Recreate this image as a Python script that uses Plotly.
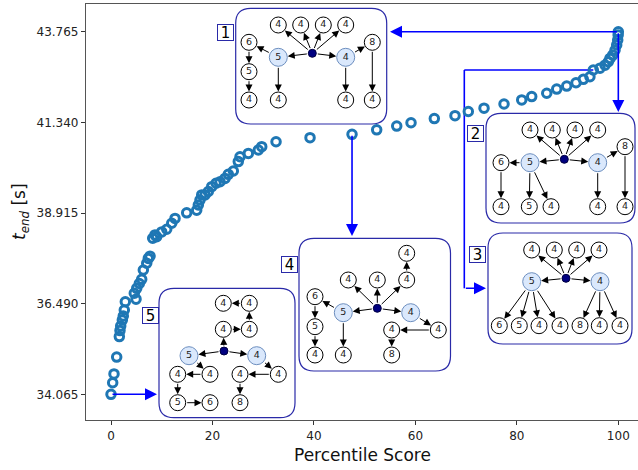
import plotly.graph_objects as go

# ---------------- data ----------------
percentile = [0, 0.33, 0.59, 1.12, 1.64, 1.77, 1.91, 2.23, 2.42, 2.62, 2.82, 4.59, 4.93,
              5.07, 5.58, 6.05, 6.37, 7.04, 7.35, 7.69, 8.22, 8.67, 9.0, 9.99, 10.98,
              11.97, 12.62, 14.92, 16.89, 17.21, 17.54, 17.88, 18.53, 19.18, 19.85, 20.70,
              21.49, 22.47, 23.12, 24.11, 25.09, 25.43, 27.07, 29.04, 29.71, 32.53, 39.23,
              47.51, 52.37, 56.32, 59.14, 63.73, 67.81, 70.43, 73.53, 77.47, 80.96, 82.93,
              85.89, 87.86, 89.83, 91.66, 93.10, 94.40, 95.07, 96.39, 97.38, 98.03, 98.36,
              98.90, 99.35, 99.68, 99.88, 99.97, 100]
t_end = [34.065, 34.375, 34.61, 35.06, 35.61, 35.77, 35.89, 36.05, 36.16, 36.32, 36.54,
         36.77, 36.61, 36.90, 37.03, 37.14, 37.39, 37.57, 37.70, 37.76, 38.24, 38.33, 38.28,
         38.41, 38.48, 38.64, 38.77, 38.92, 38.99, 39.13, 39.26, 39.40, 39.40, 39.49, 39.62,
         39.71, 39.75, 39.84, 39.95, 40.04, 40.29, 40.42, 40.51, 40.60, 40.69, 40.82, 40.93,
         41.02, 41.14, 41.24, 41.33, 41.44, 41.52, 41.63, 41.72, 41.83, 41.94, 42.03, 42.12,
         42.23, 42.31, 42.40, 42.49, 42.56, 42.74, 42.79, 42.87, 42.96, 43.05, 43.14, 43.27,
         43.41, 43.54, 43.68, 43.765]
xtick_vals = [0, 20, 40, 60, 80, 100]
ytick_vals = [34.065, 36.490, 38.915, 41.340, 43.765]
ytick_text = ["%.3f" % v for v in ytick_vals]

# indices of highlighted solutions (1..5) in the data arrays
sel_idx = {1: len(t_end) - 1, 2: len(t_end) - 1, 3: 64, 4: 47, 5: 0}

# ---------------- layout geometry (pixels) ----------------
W, H = 638, 470
L, R, T, B = 86, 0, 4, 50
PW, PH = W - L - R, H - T - B
XR = [-4.93, 103.88]
YR = [33.378, 44.506]


def px2x(px):
    return XR[0] + (px - L) / PW * (XR[1] - XR[0])


def py2y(py):
    return YR[1] - (py - T) / PH * (YR[1] - YR[0])


# ---------------- inset trees (pixel layout) ----------------
# node: name -> (px, py, label, kind)
trees = [
    dict(
        nodes={
            "r": (312.3, 53.3, "", "root"),
            "a1": (278.3, 25, "4", "n"), "a2": (300.7, 25, "4", "n"),
            "a3": (323.3, 25, "4", "n"), "a4": (345.7, 25, "4", "n"),
            "L5": (278.3, 57.3, "5", "light"), "L4": (345.7, 57.3, "4", "light"),
            "n6": (249, 42.3, "6", "n"), "n5": (249, 71.7, "5", "n"),
            "b1": (249, 100, "4", "n"), "b2": (278.3, 100, "4", "n"),
            "n8": (372.3, 42.3, "8", "n"), "b3": (345.7, 100, "4", "n"),
            "b4": (372.3, 100, "4", "n"),
        },
        edges=[("r", "a1"), ("r", "a2"), ("r", "a3"), ("r", "a4"), ("r", "L5"), ("r", "L4"),
               ("L5", "n6"), ("n6", "n5"), ("n5", "b1"), ("L5", "b2"), ("L4", "n8"),
               ("L4", "b3"), ("n8", "b4")],
        box=(235.7, 8.3, 386.7, 124), label="1", lab=(225.3, 32.5),
    ),
    dict(
        nodes={
            "r": (564.3, 159.3, "", "root"),
            "a1": (530, 130, "4", "n"), "a2": (552.3, 130, "4", "n"),
            "a3": (575, 130, "4", "n"), "a4": (597.7, 130, "4", "n"),
            "L5": (530, 162.7, "5", "light"), "L4": (597.7, 162.7, "4", "light"),
            "n6": (501, 162.7, "6", "n"), "n8": (625, 146.7, "8", "n"),
            "b1": (501, 206.7, "4", "n"), "b2": (529.3, 206.7, "5", "n"),
            "b3": (551, 206.7, "4", "n"), "b4": (597.7, 206.7, "4", "n"),
            "b5": (625, 206.7, "4", "n"),
        },
        edges=[("r", "a1"), ("r", "a2"), ("r", "a3"), ("r", "a4"), ("r", "L5"), ("r", "L4"),
               ("L5", "n6"), ("n6", "b1"), ("L5", "b2"), ("L5", "b3"), ("L4", "n8"),
               ("L4", "b4"), ("n8", "b5")],
        box=(486, 113.3, 635, 223), label="2", lab=(475.3, 133.3),
    ),
    dict(
        nodes={
            "r": (566, 278.3, "", "root"),
            "a1": (531.7, 250, "4", "n"), "a2": (554.3, 250, "4", "n"),
            "a3": (576.7, 250, "4", "n"), "a4": (599, 250, "4", "n"),
            "L5": (531.7, 281.7, "5", "light"), "L4": (600, 281.7, "4", "light"),
            "b1": (499.3, 325.7, "6", "n"), "b2": (519.3, 325.7, "5", "n"),
            "b3": (539, 325.7, "4", "n"), "b4": (560, 325.7, "4", "n"),
            "b5": (580, 325.7, "8", "n"), "b6": (599.3, 325.7, "4", "n"),
            "b7": (620, 325.7, "4", "n"),
        },
        edges=[("r", "a1"), ("r", "a2"), ("r", "a3"), ("r", "a4"), ("r", "L5"), ("r", "L4"),
               ("L5", "b1"), ("L5", "b2"), ("L5", "b3"), ("L5", "b4"),
               ("L4", "b5"), ("L4", "b6"), ("L4", "b7")],
        box=(488, 233, 632, 344), label="3", lab=(477.3, 254),
    ),
    dict(
        nodes={
            "r": (377.3, 308.3, "", "root"),
            "L5": (343.3, 312.7, "5", "light"), "L4": (410.7, 312.7, "4", "light"),
            "a1": (348.3, 280, "4", "n"), "a2": (377.3, 280, "4", "n"),
            "a3": (406.7, 280, "4", "n"), "a4": (406.7, 253.3, "4", "n"),
            "n6": (315, 296.7, "6", "n"), "n5": (315, 326.7, "5", "n"),
            "b1": (315, 355, "4", "n"), "b2": (343.3, 355, "4", "n"),
            "c1": (438.3, 330, "4", "n"), "c2": (391.7, 330, "4", "n"),
            "n8": (391.7, 355, "8", "n"),
        },
        edges=[("r", "a1"), ("r", "a2"), ("r", "a3"), ("a3", "a4"), ("r", "L5"), ("r", "L4"),
               ("L5", "n6"), ("n6", "n5"), ("n5", "b1"), ("L5", "b2"),
               ("L4", "c1"), ("c1", "c2"), ("c2", "n8")],
        box=(299, 238.3, 450.5, 371), label="4", lab=(289.2, 264.2),
    ),
    dict(
        nodes={
            "r": (224, 351, "", "root"),
            "L5": (189, 355.7, "5", "light"), "L4": (256.7, 355.7, "4", "light"),
            "u1": (223.3, 329.3, "4", "n"), "u2": (249.3, 329.3, "4", "n"),
            "u3": (249.3, 303.3, "4", "n"), "u4": (223.3, 303.3, "4", "n"),
            "l1": (210, 374.3, "4", "n"), "l2": (177.7, 374.3, "4", "n"),
            "l3": (177.7, 402.7, "5", "n"), "l4": (210, 402.7, "6", "n"),
            "m1": (278.3, 374.3, "4", "n"), "m2": (240, 374.3, "4", "n"),
            "m3": (240, 402.7, "8", "n"),
        },
        edges=[("r", "u1"), ("u1", "u2"), ("u2", "u3"), ("u3", "u4"), ("r", "L5"), ("r", "L4"),
               ("L5", "l1"), ("l1", "l2"), ("l2", "l3"), ("l3", "l4"),
               ("L4", "m1"), ("m1", "m2"), ("m2", "m3")],
        box=(159, 288.3, 295, 417.7), label="5", lab=(150, 315.3),
    ),
]

RAD = {"n": 8.0, "light": 9.0, "root": 4.0}
STYLE = {
    "n": dict(size=16, color="white", line=dict(color="black", width=1)),
    "light": dict(size=18, color="#dae8fc", line=dict(color="#6c8ebf", width=1)),
    "root": dict(size=8, color="#000080", line=dict(color="#000040", width=1)),
}
BOXCOL = "#2a2aa8"
CONN = "#0000ff"
FONT = "DejaVu Sans"


def rounded_path(x0, y0, x1, y1, r):
    pts = [
        ("M", [(x0 + r, y0)]), ("L", [(x1 - r, y0)]), ("Q", [(x1, y0), (x1, y0 + r)]),
        ("L", [(x1, y1 - r)]), ("Q", [(x1, y1), (x1 - r, y1)]), ("L", [(x0 + r, y1)]),
        ("Q", [(x0, y1), (x0, y1 - r)]), ("L", [(x0, y0 + r)]), ("Q", [(x0, y0), (x0 + r, y0)]),
    ]
    s = ""
    for cmd, ps in pts:
        s += cmd + " " + " ".join("%.5f,%.5f" % (px2x(a), py2y(b)) for a, b in ps) + " "
    return s + "Z"


fig = go.Figure()
shapes = []
annotations = []


def arrow(x_head, y_head, x_tail, y_tail, color, width, size, head=2, so=0, sso=0):
    return dict(x=x_head, y=y_head, ax=x_tail, ay=y_tail, xref="x", yref="y",
                axref="x", ayref="y", showarrow=True, arrowhead=head, arrowsize=size,
                arrowwidth=width, arrowcolor=color, standoff=so, startstandoff=sso, text="")


# connectors from the highlighted data points to the insets
i1 = sel_idx[1]
annotations.append(arrow(px2x(390), t_end[i1], percentile[i1], t_end[i1], CONN, 1.6, 1.5))
annotations.append(arrow(percentile[i1], py2y(112), percentile[i1], t_end[i1], CONN, 1.6, 1.5))
i3 = sel_idx[3]
shapes.append(dict(type="line", xref="x", yref="y", x0=percentile[i3], y0=t_end[i3],
                   x1=px2x(464.3), y1=t_end[i3], line=dict(color=CONN, width=1.6), layer="below"))
shapes.append(dict(type="line", xref="x", yref="y", x0=px2x(464.3), y0=t_end[i3],
                   x1=px2x(464.3), y1=py2y(288.3), line=dict(color=CONN, width=1.6), layer="below"))
annotations.append(arrow(px2x(486), py2y(288.3), px2x(464.3), py2y(288.3), CONN, 1.6, 1.5))
i4 = sel_idx[4]
annotations.append(arrow(percentile[i4], py2y(236), percentile[i4], t_end[i4], CONN, 1.6, 1.5))
i5 = sel_idx[5]
annotations.append(arrow(px2x(157), t_end[i5], percentile[i5], t_end[i5], CONN, 1.6, 1.5))

# data
fig.add_trace(go.Scatter(
    x=percentile, y=t_end, mode="markers", showlegend=False, hoverinfo="skip",
    marker=dict(symbol="circle-open", size=8.5, color="#1f77b4", line=dict(width=3, color="#1f77b4")),
))

# insets
node_groups = {k: dict(x=[], y=[], t=[]) for k in RAD}
for tr in trees:
    x0, y0, x1, y1 = tr["box"]
    shapes.append(dict(type="path", xref="x", yref="y", path=rounded_path(x0, y0, x1, y1, 15),
                       line=dict(color=BOXCOL, width=1.2), fillcolor="white", layer="below"))
    lx, ly = tr["lab"]
    annotations.append(dict(x=px2x(lx), y=py2y(ly), xref="x", yref="y", text=tr["label"],
                            showarrow=False, font=dict(family=FONT, size=15, color="black"),
                            bordercolor=BOXCOL, borderwidth=1, borderpad=0, bgcolor="white",
                            width=15, height=15))
    nd = tr["nodes"]
    for a, b in tr["edges"]:
        ax_, ay_, _, ka = nd[a]
        bx_, by_, _, kb = nd[b]
        annotations.append(arrow(px2x(bx_), py2y(by_), px2x(ax_), py2y(ay_), "black", 1.0, 1.4,
                                 head=2, so=RAD[kb] + 0.5, sso=RAD[ka]))
    for k, (px, py, lab, kind) in nd.items():
        g = node_groups[kind]
        g["x"].append(px2x(px))
        g["y"].append(py2y(py))
        g["t"].append(lab)

for kind, g in node_groups.items():
    if kind == "root":
        fig.add_trace(go.Scatter(
            x=g["x"], y=g["y"], mode="markers", showlegend=False, hoverinfo="skip",
            marker=dict(symbol="circle", **STYLE[kind]), cliponaxis=False,
        ))
    else:
        fig.add_trace(go.Scatter(
            x=g["x"], y=g["y"], text=g["t"], mode="markers+text", textposition="middle center",
            textfont=dict(family=FONT, size=9.5, color="#222222"), showlegend=False,
            hoverinfo="skip", marker=dict(symbol="circle", **STYLE[kind]), cliponaxis=False,
        ))

# axis titles
annotations.append(dict(x=0.5, y=(420 - 455) / PH, xref="paper", yref="paper",
                        text="Percentile Score", showarrow=False, xanchor="center", yanchor="middle",
                        font=dict(family=FONT, size=17, color="#111")))
annotations.append(dict(x=(20 - L) / PW, y=0.5, xref="paper", yref="paper", textangle=-90,
                        text="<i>t</i><sub><i>end</i></sub> [s]", showarrow=False,
                        xanchor="center", yanchor="middle",
                        font=dict(family=FONT, size=17, color="#111")))

fig.update_layout(
    width=W, height=H, margin=dict(l=L, r=R, t=T, b=B),
    paper_bgcolor="white", plot_bgcolor="white",
    shapes=shapes, annotations=annotations, showlegend=False,
    font=dict(family=FONT),
)
fig.update_xaxes(range=XR, tickvals=xtick_vals, ticks="outside", ticklen=4, tickwidth=1,
                 tickcolor="#333", showline=True, linecolor="#555", linewidth=1.2, mirror=True,
                 showgrid=False, zeroline=False, tickfont=dict(family=FONT, size=12, color="#222"))
fig.update_yaxes(range=YR, tickvals=ytick_vals, ticktext=ytick_text, ticks="outside", ticklen=4,
                 tickwidth=1, tickcolor="#333", showline=True, linecolor="#555", linewidth=1.2,
                 mirror=False, showgrid=False, zeroline=False,
                 tickfont=dict(family=FONT, size=12, color="#222"))

fig.write_html("out.html")
